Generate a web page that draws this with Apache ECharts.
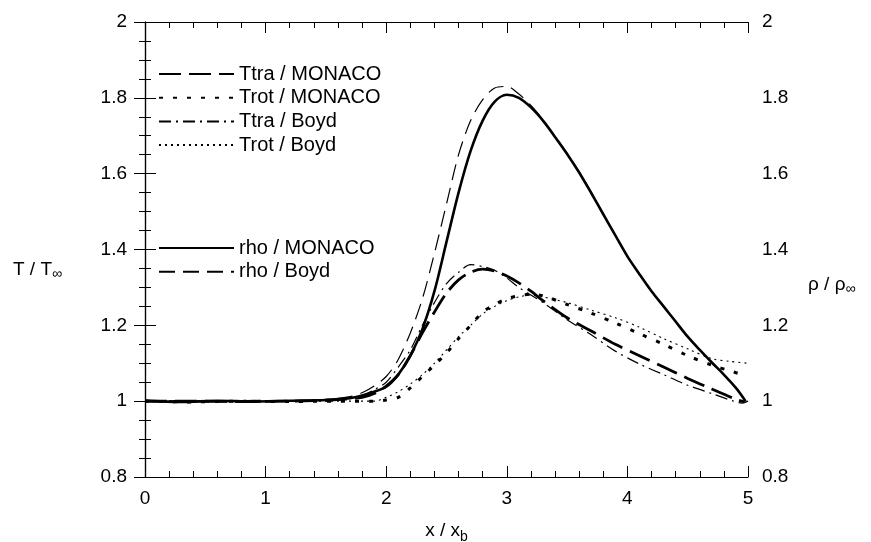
<!DOCTYPE html>
<html><head><meta charset="utf-8">
<script src="https://cdn.jsdelivr.net/npm/echarts@6/dist/echarts.min.js"></script>
<style>html,body{margin:0;padding:0;background:#fff}#c{width:871px;height:542px}</style>
</head><body><div id="c"></div>
<script>
// x positions and values for each series
const rhoMonacoX = [0,0.3,0.6,0.9,1.2,1.5,1.7,1.8,1.9,2.0,2.1,2.2,2.3,2.4,2.5,2.6,2.7,2.8,2.9,3.0,3.1,3.2,3.3,3.4,3.5,3.6,3.7,3.8,3.9,4.0,4.1,4.2,4.3,4.4,4.5,4.6,4.7,4.8,4.9,4.98];
const rhoMonacoY = [1.0,0.998,1.001,0.999,1.001,1.003,1.008,1.015,1.025,1.038,1.07,1.12,1.19,1.29,1.42,1.55,1.66,1.74,1.79,1.808,1.80,1.775,1.74,1.697,1.652,1.603,1.549,1.493,1.437,1.382,1.335,1.29,1.25,1.21,1.17,1.135,1.102,1.07,1.035,1.0];
const rhoBoydX = [0,0.3,0.6,0.9,1.2,1.5,1.7,1.8,1.9,2.0,2.1,2.2,2.3,2.4,2.5,2.6,2.7,2.8,2.9,3.0,3.1,3.2,3.3,3.4,3.5,3.6,3.7,3.8,3.9,4.0,4.1,4.2,4.3,4.4,4.5,4.6,4.7,4.8,4.9,4.98];
const rhoBoydY = [1.003,1.0,0.998,1.002,1.0,1.004,1.012,1.022,1.04,1.065,1.11,1.18,1.27,1.39,1.52,1.65,1.74,1.795,1.826,1.83,1.81,1.78,1.742,1.699,1.654,1.605,1.551,1.494,1.437,1.382,1.335,1.29,1.25,1.21,1.17,1.135,1.102,1.07,1.035,1.0];
const ttraMonacoX = [0,0.4,0.8,1.2,1.6,1.8,1.9,2.0,2.1,2.2,2.3,2.4,2.5,2.6,2.7,2.8,2.9,3.0,3.1,3.2,3.3,3.5,3.7,3.9,4.1,4.3,4.5,4.7,4.9,4.97];
const ttraMonacoY = [1.0,1.0,0.999,1.0,1.004,1.01,1.02,1.04,1.07,1.12,1.18,1.235,1.285,1.32,1.34,1.348,1.343,1.33,1.312,1.29,1.265,1.22,1.185,1.15,1.12,1.09,1.06,1.032,1.005,0.998];
const ttraBoydX = [0,0.4,0.8,1.2,1.6,1.8,1.9,2.0,2.1,2.2,2.3,2.4,2.5,2.6,2.7,2.8,2.9,3.0,3.1,3.2,3.3,3.5,3.7,3.9,4.1,4.3,4.5,4.7,4.88,4.95,5.0];
const ttraBoydY = [1.002,0.999,1.001,1.0,1.006,1.015,1.03,1.05,1.09,1.135,1.2,1.26,1.31,1.34,1.36,1.355,1.345,1.325,1.30,1.28,1.26,1.215,1.175,1.132,1.098,1.07,1.042,1.02,1.0,0.995,1.0];
const trotMonacoX = [0,0.4,0.8,1.2,1.6,1.9,2.0,2.1,2.2,2.3,2.4,2.5,2.6,2.7,2.8,2.9,3.0,3.1,3.2,3.3,3.5,3.7,3.9,4.1,4.3,4.5,4.7,4.85,4.97];
const trotMonacoY = [1.0,0.998,1.0,0.999,1.0,1.0,1.003,1.01,1.035,1.065,1.095,1.127,1.165,1.2,1.235,1.255,1.27,1.278,1.282,1.278,1.255,1.232,1.206,1.178,1.15,1.12,1.095,1.08,1.068];
const trotBoydX = [0,0.4,0.8,1.2,1.6,1.9,2.0,2.1,2.2,2.3,2.4,2.5,2.6,2.7,2.8,2.9,3.0,3.1,3.2,3.3,3.5,3.7,3.9,4.1,4.3,4.5,4.7,4.85,5.0];
const trotBoydY = [1.0,1.0,1.0,1.0,1.0,1.0,1.01,1.025,1.045,1.07,1.1,1.135,1.17,1.2,1.23,1.25,1.265,1.275,1.28,1.275,1.26,1.24,1.22,1.195,1.165,1.138,1.112,1.105,1.1];

const xTicks = [0,1,2,3,4,5];
const yTicks = [0.8,1,1.2,1.4,1.6,1.8,2];

const legendTop = ['Ttra / MONACO','Trot / MONACO','Ttra / Boyd','Trot / Boyd'];
const legendBottom = ['rho / MONACO','rho / Boyd'];

function pairs(xs, ys){ return xs.map((x,i)=>[x, ys[i]]); }

const FONT = 'Liberation Sans';
const chart = echarts.init(document.getElementById('c'), null, {renderer:'canvas'});

function mkLine(name, xs, ys, width, type, smooth){
  return {name, type:'line', data:pairs(xs,ys), symbol:'none', smooth: smooth,
    lineStyle:{color:'#000', width, type, cap:'butt'}, itemStyle:{color:'#000'}, z:2, animation:false};
}

const axisCommon = {
  min:0.8, max:2, interval:0.2,
  axisLine:{show:true, lineStyle:{color:'#000', width:1.2}},
  axisTick:{show:true, inside:true, length:11, lineStyle:{color:'#000'}},
  minorTick:{show:true, splitNumber:4, length:6, lineStyle:{color:'#000'}},
  splitLine:{show:false},
};

const legendCommon = {orient:'vertical', left:158, padding:0, itemWidth:75, itemHeight:20, itemGap:3.7, itemStyle:{opacity:0},
  textStyle:{fontFamily:FONT, fontSize:20, color:'#000'}, selectedMode:false};

chart.setOption({
  animation:false,
  backgroundColor:'#fff',
  grid:{left:145, right:123, top:22, bottom:65, containLabel:false, outerBoundsMode:'none'},
  legend:[
    Object.assign({data:legendTop, top:64}, legendCommon),
    Object.assign({data:legendBottom, top:238}, legendCommon)
  ],
  xAxis:[
    {type:'value', position:'bottom', min:0, max:5, interval:1,
     name:'{a|x / x}{s|b}', nameLocation:'middle', nameGap:41,
     nameTextStyle:{rich:{a:{fontFamily:FONT, fontSize:19, color:'#000'}, s:{fontFamily:FONT, fontSize:14, color:'#000', padding:[12,0,0,0]}}},
     axisLine:{show:true, onZero:false, lineStyle:{color:'#000', width:1.2}},
     axisTick:{show:true, inside:true, length:11, lineStyle:{color:'#000'}},
     minorTick:{show:true, splitNumber:5, length:6, lineStyle:{color:'#000'}},
     axisLabel:{fontFamily:FONT, fontSize:19, color:'#000', margin:12, formatter:v=>xTicks.includes(v)?String(v):''},
     splitLine:{show:false}},
    {type:'value', position:'top', min:0, max:5, interval:1,
     axisLine:{show:true, onZero:false, lineStyle:{color:'#000', width:1.2}},
     axisTick:{show:true, inside:true, length:11, lineStyle:{color:'#000'}},
     minorTick:{show:true, splitNumber:5, length:6, lineStyle:{color:'#000'}},
     axisLabel:{show:false}, splitLine:{show:false}}
  ],
  yAxis:[
    Object.assign({type:'value', position:'left',
      name:'{a|T / T}{s|∞}', nameLocation:'middle', nameGap:83, nameRotate:0,
      nameTextStyle:{padding:[40,0,0,0], rich:{a:{fontFamily:FONT, fontSize:19, color:'#000'}, s:{fontFamily:FONT, fontSize:14, color:'#000', padding:[10,0,0,0]}}},
      axisLabel:{fontFamily:FONT, fontSize:19, color:'#000', margin:18, formatter:v=>yTicks.some(t=>Math.abs(t-v)<1e-9)?String(+v.toFixed(1)):''}
    }, axisCommon),
    Object.assign({type:'value', position:'right',
      name:'{a|ρ / ρ}{s|∞}', nameLocation:'middle', nameGap:60, nameRotate:0,
      nameTextStyle:{padding:[70,0,0,0], rich:{a:{fontFamily:FONT, fontSize:19, color:'#000'}, s:{fontFamily:FONT, fontSize:14, color:'#000', padding:[10,0,0,0]}}},
      axisLabel:{fontFamily:FONT, fontSize:19, color:'#000', margin:14, formatter:v=>yTicks.some(t=>Math.abs(t-v)<1e-9)?String(+v.toFixed(1)):''}
    }, axisCommon)
  ],
  series:[
    mkLine('Ttra / MONACO', ttraMonacoX, ttraMonacoY, 2.8, [22,8], 0.3),
    mkLine('Trot / MONACO', trotMonacoX, trotMonacoY, 3, [4,10], 0.3),
    mkLine('Ttra / Boyd', ttraBoydX, ttraBoydY, 1.2, [12,5,2,5], 0.3),
    mkLine('Trot / Boyd', trotBoydX, trotBoydY, 1.1, [2,4], 0.3),
    mkLine('rho / MONACO', rhoMonacoX, rhoMonacoY, 2.6, 'solid', 0.3),
    mkLine('rho / Boyd', rhoBoydX, rhoBoydY, 1.2, [16,8], 0.3)
  ]
});
</script></body></html>
